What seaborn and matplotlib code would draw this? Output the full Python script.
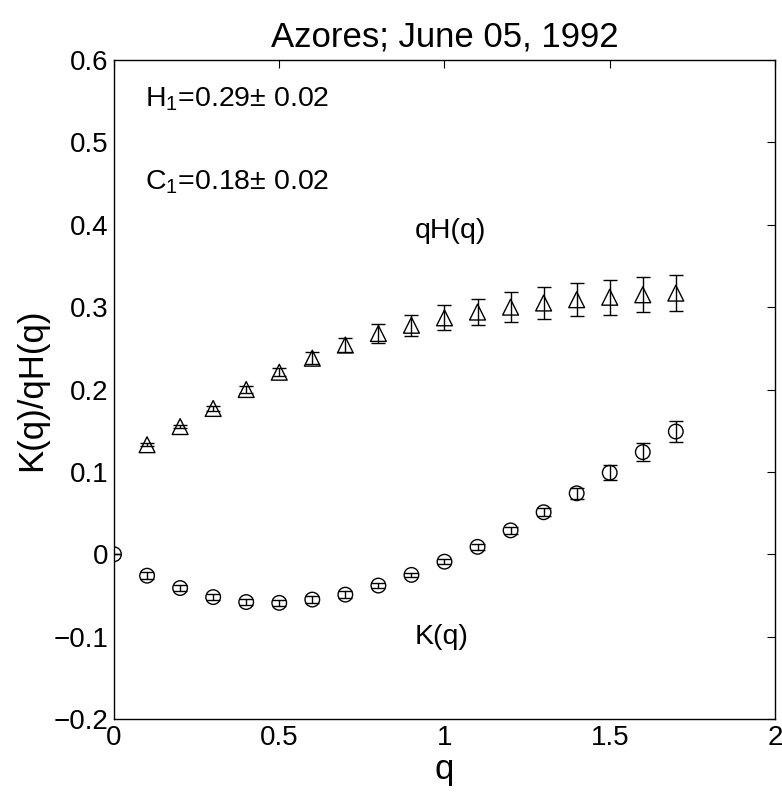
import numpy as np
import pandas as pd
import matplotlib
matplotlib.use("Agg")
import matplotlib.pyplot as plt
import seaborn as sns

sns.set_style("white")
plt.rcParams['font.family'] = ['Liberation Sans', 'DejaVu Sans']
plt.rcParams['mathtext.fontset'] = 'custom'
plt.rcParams['mathtext.rm'] = 'Liberation Sans'
plt.rcParams['mathtext.it'] = 'Liberation Sans'
plt.rcParams['text.color'] = 'black'
plt.rcParams['axes.labelcolor'] = 'black'
plt.rcParams['xtick.color'] = 'black'
plt.rcParams['ytick.color'] = 'black'

q_h = [0.1, 0.2, 0.3, 0.4, 0.5, 0.6, 0.7, 0.8, 0.9, 1.0, 1.1, 1.2, 1.3, 1.4, 1.5, 1.6, 1.7]
qH = [0.133, 0.155, 0.177, 0.200, 0.221, 0.238, 0.254, 0.268, 0.278, 0.287, 0.294, 0.300, 0.305, 0.309, 0.312, 0.315, 0.317]
qH_err = [0.002, 0.002, 0.003, 0.004, 0.005, 0.007, 0.009, 0.011, 0.013, 0.015, 0.016, 0.018, 0.019, 0.020, 0.021, 0.021, 0.022]

q_k = [0.0, 0.1, 0.2, 0.3, 0.4, 0.5, 0.6, 0.7, 0.8, 0.9, 1.0, 1.1, 1.2, 1.3, 1.4, 1.5, 1.6, 1.7]
K = [0.0, -0.026, -0.041, -0.052, -0.058, -0.059, -0.055, -0.049, -0.038, -0.025, -0.009, 0.009, 0.029, 0.051, 0.074, 0.099, 0.124, 0.149]
K_err = [0.0, 0.004, 0.004, 0.004, 0.004, 0.004, 0.004, 0.004, 0.003, 0.002, 0.003, 0.004, 0.004, 0.005, 0.007, 0.009, 0.011, 0.013]

df_h = pd.DataFrame({"q": q_h, "v": qH})
df_k = pd.DataFrame({"q": q_k, "v": K})

fig = plt.figure(figsize=(7.82, 7.99), dpi=100)
ax = fig.add_axes([0.1458, 0.1001, 0.8452, 0.8248])

ax.errorbar(q_h, qH, yerr=qH_err, fmt='none', ecolor='black', elinewidth=1.0, capsize=5, capthick=1.0, zorder=2)
ax.errorbar(q_k, K, yerr=K_err, fmt='none', ecolor='black', elinewidth=1.0, capsize=5, capthick=1.0, zorder=2)
sns.scatterplot(data=df_h, x="q", y="v", marker='^', s=130, facecolors='none', edgecolor='black', linewidth=1.0, ax=ax, zorder=3)
sns.scatterplot(data=df_k, x="q", y="v", marker='o', s=110, facecolors='none', edgecolor='black', linewidth=1.0, ax=ax, zorder=3)

ax.set_xlim(0, 2)
ax.set_ylim(-0.2, 0.6)
ax.set_xticks([0, 0.5, 1, 1.5, 2])
ax.set_xticklabels(['0', '0.5', '1', '1.5', '2'])
ax.set_yticks([-0.2, -0.1, 0, 0.1, 0.2, 0.3, 0.4, 0.5, 0.6])
ax.set_yticklabels(['\u22120.2', '\u22120.1', '0', '0.1', '0.2', '0.3', '0.4', '0.5', '0.6'])
ax.tick_params(direction='in', length=6, width=0.8, top=True, right=True, labelsize=20, pad=4, colors='black')
for s in ax.spines.values():
    s.set_color('black')
    s.set_linewidth(1.0)

ax.set_xlabel('q', fontsize=25, labelpad=2, color='black')
ax.set_ylabel('K(q)/qH(q)', fontsize=25, labelpad=4, color='black')
ax.set_title('Azores; June 05, 1992', fontsize=25, pad=10, color='black')

ax.text(0.095, 0.552, r'H$_1$=0.29$\pm$ 0.02', fontsize=20.5, va='center', ha='left', color='black')
ax.text(0.095, 0.452, r'C$_1$=0.18$\pm$ 0.02', fontsize=20.5, va='center', ha='left', color='black')
ax.text(0.91, 0.393, 'qH(q)', fontsize=20.5, va='center', ha='left', color='black')
ax.text(0.91, -0.1, 'K(q)', fontsize=20.5, va='center', ha='left', color='black')

fig.savefig('out.png', dpi=100)
